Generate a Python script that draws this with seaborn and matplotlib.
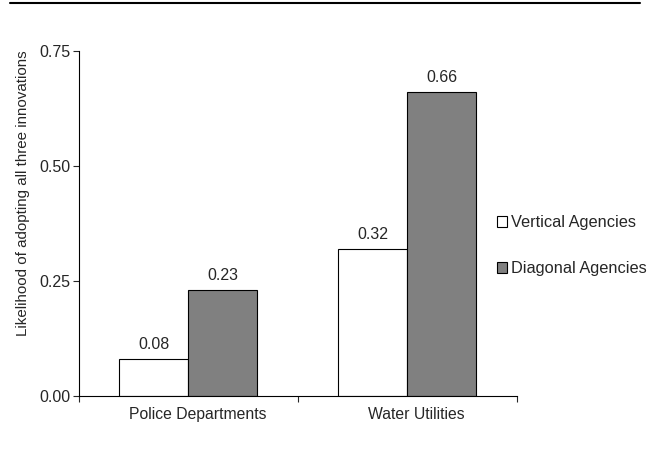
import numpy as np
import pandas as pd
import matplotlib.pyplot as plt
import matplotlib.transforms as mtransforms
import seaborn as sns
from matplotlib.lines import Line2D
from matplotlib.patches import Patch

# 데이터
categories = ['Police Departments', 'Water Utilities']
groups = ['Vertical Agencies', 'Diagonal Agencies']
vertical = [0.08, 0.32]
diagonal = [0.23, 0.66]
colors = ['#ffffff', '#808080']

df = pd.DataFrame({
    'category': categories * 2,
    'group': [groups[0]] * 2 + [groups[1]] * 2,
    'value': vertical + diagonal,
})

sns.set_style('white')
plt.rcParams['font.family'] = ['Liberation Sans', 'DejaVu Sans']

fig = plt.figure(figsize=(6.5, 4.55), dpi=100)
ax = fig.add_axes([0.1215, 0.1297, 0.795 - 0.1215, 0.888 - 0.1297])

sns.barplot(data=df, x='category', y='value', hue='group', hue_order=groups,
            palette=colors, width=0.63, edgecolor='black', linewidth=0.8,
            ax=ax, legend=False)

# 막대 위 값
for cont in ax.containers:
    ax.bar_label(cont, fmt='%.2f', padding=5, fontsize=11.5)

ax.set_ylim(0, 0.75)
ax.set_yticks([0, 0.25, 0.5, 0.75])
ax.set_yticklabels(['0.00', '0.25', '0.50', '0.75'], fontsize=11.5)
ax.set_xlim(-0.5, 1.5)
ax.set_xticks([-0.5, 0.5, 1.5])
ax.set_xticklabels([])
ax.set_xticks([0, 1], minor=True)
ax.set_xticklabels(categories, minor=True, fontsize=11.3)
ax.tick_params(axis='x', which='minor', length=0, pad=8)
ax.tick_params(axis='x', which='major', length=4, width=0.8, direction='out', bottom=True)
ax.tick_params(axis='y', length=4.5, width=0.8, direction='out', left=True, pad=1.5)
# 카테고리 라벨 약간 오른쪽으로
shift = mtransforms.ScaledTranslation(9 / 100, 0, fig.dpi_scale_trans)
for lbl in ax.get_xticklabels(minor=True):
    lbl.set_transform(lbl.get_transform() + shift)
ax.set_xlabel('')
ax.set_ylabel('Likelihood of adopting all three innovations', fontsize=10.9,
              labelpad=7, y=0.588)

sns.despine(ax=ax)
for s in ['left', 'bottom']:
    ax.spines[s].set_color('black')
    ax.spines[s].set_linewidth(0.8)

handles = [Patch(facecolor=c, edgecolor='black', linewidth=0.8) for c in colors]
fig.legend(handles, groups, loc='center left', bbox_to_anchor=(0.765, 0.46),
           frameon=False, fontsize=11.8, handlelength=0.6, handleheight=0.6,
           handletextpad=0.25, labelspacing=1.9, borderaxespad=0, borderpad=0)

# 위쪽 가로선
fig.add_artist(Line2D([0.015, 0.985], [0.993, 0.993], color='black', linewidth=1.5))

fig.savefig('out.png', dpi=100)
